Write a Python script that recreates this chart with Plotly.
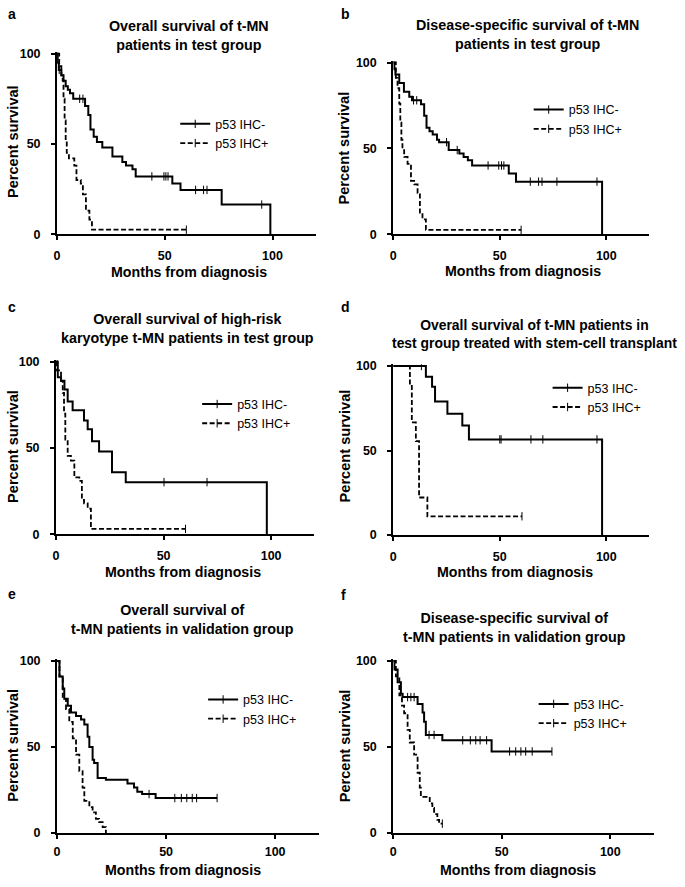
import numpy as np
import plotly.graph_objects as go
from plotly.subplots import make_subplots

FONT = "Liberation Sans, Arial, sans-serif"
W, H = 685, 887

# ---- data (months, percent survival) ----
a_neg_t = [0, 0.3, 0.8, 2, 3, 4, 5, 6, 7.5, 13, 14.5, 15.5, 17, 18.5, 21, 25.7, 30.3, 32, 35, 36.5, 53.5, 57.3, 76.4, 99]
a_neg_s = [100, 95, 91, 88, 85, 82, 80, 78, 75, 71, 66, 58, 54, 51, 48, 43, 40, 38, 36, 32, 28, 24.5, 16.4, 0]
a_neg_c = [1, 10.5, 12, 44, 49.6, 50.5, 51.5, 64.3, 68, 69.6, 95]
a_pos_t = [0, 1, 2, 2.6, 3, 3.5, 4, 4.5, 5.5, 8, 9, 11, 12, 13.4, 15, 16.2]
a_pos_s = [100, 93, 88, 85, 75, 63, 52, 45, 42, 38, 30, 28, 22, 13, 8, 2.5]
a_pos_c = [60]

b_neg_t = [0, 0.5, 1, 2.8, 5, 7.5, 8.8, 13, 14.5, 15.6, 17, 18.5, 20.5, 21.5, 26, 31, 33, 35, 37, 54.2, 57.6, 98]
b_neg_s = [100, 96, 93, 88, 83, 80, 78, 75.7, 69, 62, 60, 58, 55, 53.6, 49, 47, 45, 43, 40, 35.4, 30.6, 0]
b_neg_c = [9.5, 11, 25, 30, 44.5, 49.5, 50.8, 51.9, 64.3, 68.2, 69.8, 76.8, 95.6]
b_pos_t = [0, 1.2, 2, 2.8, 3.3, 3.8, 4.3, 5.1, 6.7, 8.3, 9.8, 11.4, 12.5, 13.7, 15.3]
b_pos_s = [100, 91, 85, 76, 65, 55, 49, 45, 41, 31, 29, 24, 12.5, 8.6, 2.5]
b_pos_c = [60]

c_neg_t = [0, 0.8, 2.3, 3.9, 5.4, 7.7, 13, 14.7, 16.7, 20, 26, 32.4, 98]
c_neg_s = [100, 91, 89, 84, 77, 72, 66, 61, 54, 48, 36, 30.3, 0]
c_neg_c = [0.5, 50.2, 70.2]
c_pos_t = [0, 0.3, 2.3, 3.1, 3.7, 4.3, 5.4, 6.9, 8.5, 10.8, 12, 13, 14.7, 16.2]
c_pos_s = [100, 95, 89, 82, 70, 55, 45.5, 42.7, 33, 31, 20, 18, 15, 3.2]
c_pos_c = [60.2]

d_neg_t = [0, 15.3, 18.2, 19.6, 25.4, 32.4, 35.5, 98]
d_neg_s = [100, 93.6, 87.7, 79, 71.8, 64.8, 56.6, 0]
d_neg_c = [13.2, 50, 50.6, 64.6, 70.2, 95.6]
d_pos_t = [0, 7.8, 8.7, 10.6, 12.1, 16]
d_pos_s = [100, 88.9, 66.7, 55.6, 22.2, 11.1]
d_pos_c = [60.4]

e_neg_t = [0, 1.1, 2.6, 3.3, 4.9, 6.4, 8.7, 11, 12.5, 14, 14.8, 16.3, 17, 18.6, 22.4, 32.3, 35.3, 36.8, 39, 45.2]
e_neg_s = [100, 91, 84, 78, 74, 70, 68, 66, 63, 56, 50, 42.6, 40.7, 32, 31, 28.7, 26.4, 24, 22.6, 20.3]
e_neg_c = [42.2, 54, 57, 59.5, 62, 64, 73.4]
e_pos_t = [0, 1.1, 2.6, 4.1, 5.6, 7.2, 8.7, 10.2, 11.7, 12.5, 14.8, 16.3, 17.8, 19.3, 20.9, 22.4]
e_pos_s = [100, 91, 78, 72, 64.6, 55, 45.5, 36, 26.4, 18.7, 15, 12, 8.2, 6.3, 3.4, 0]
e_pos_c = []

f_neg_t = [0, 0.5, 2, 3.5, 4.3, 11.2, 13.5, 14.2, 15, 22.6, 45.3]
f_neg_s = [100, 95, 87.6, 81, 79, 75, 70, 64.6, 57, 53.9, 47.4]
f_neg_c = [6.6, 8.1, 9.6, 16.5, 18.8, 32, 35.5, 38, 40, 43, 53.6, 56.4, 58.8, 61, 64, 73.1]
f_pos_t = [0, 1.2, 2.8, 4, 5, 6.6, 7.6, 9.6, 11.2, 12.2, 12.7, 16.8, 18, 18.8, 20.3, 21.1]
f_pos_s = [100, 91, 80, 74, 69.6, 60, 52.6, 45.5, 35, 26.4, 21, 17.2, 14.5, 11, 7.6, 5.4]
f_pos_c = [22.6]

titles = [
    "Overall survival of t-MN<br>patients in test group",
    "Disease-specific survival of t-MN<br>patients in test group",
    "Overall survival of high-risk<br>karyotype t-MN patients in test group",
    "Overall survival of t-MN patients in<br>test group treated with stem-cell transplant",
    "Overall survival of<br>t-MN patients in validation group",
    "Disease-specific survival of<br>t-MN patients in validation group",
]
letters = ["a", "b", "c", "d", "e", "f"]
x_ticks = [0, 50, 100]
y_ticks = [0, 50, 100]

series = [
    (a_neg_t, a_neg_s, a_neg_c, a_pos_t, a_pos_s, a_pos_c),
    (b_neg_t, b_neg_s, b_neg_c, b_pos_t, b_pos_s, b_pos_c),
    (c_neg_t, c_neg_s, c_neg_c, c_pos_t, c_pos_s, c_pos_c),
    (d_neg_t, d_neg_s, d_neg_c, d_pos_t, d_pos_s, d_pos_c),
    (e_neg_t, e_neg_s, e_neg_c, e_pos_t, e_pos_s, e_pos_c),
    (f_neg_t, f_neg_s, f_neg_c, f_pos_t, f_pos_s, f_pos_c),
]

# pixel layout of each panel: x of 0 / 100 months, y of 0 / 100 percent
# title centre + font size, x-title centre, y-title centre, letter, legend text start,
# x tick label standoff
boxes = [
    dict(x0=54.3, x100=270.7, y0=232.3, y100=49.3, tt=(187, 30.5), ts=14.3, xt=(187, 271), yt=(10, 138), lt=(3, 9), lg=(173, 130.5), sx=5),
    dict(x0=392, x100=606, y0=232.3, y100=58.3, tt=(527, 29.5), ts=14.3, xt=(522, 270), yt=(343, 145), lt=(337, 9), lg=(528, 116), sx=5),
    dict(x0=53.3, x100=269.3, y0=536.7, y100=361.7, tt=(185, 328), ts=14.3, xt=(181, 575), yt=(10, 447), lt=(3, 306), lg=(195, 414.5), sx=5),
    dict(x0=392, x100=606, y0=537.3, y100=366, tt=(534, 333.5), ts=13.9, xt=(514, 575), yt=(343, 447), lt=(337, 306), lg=(547, 398), sx=5),
    dict(x0=54.3, x100=273.3, y0=839.3, y100=665, tt=(180, 622.5), ts=14.3, xt=(181, 877), yt=(10, 750), lt=(3, 597), lg=(201, 714), sx=2),
    dict(x0=392, x100=610, y0=839.3, y100=665, tt=(514, 631.5), ts=14.3, xt=(517, 877), yt=(343, 751), lt=(337, 598), lg=(533, 718.5), sx=2),
]

XMAX, YMAX = 120, 101


def km_line(t, s, cens):
    t, s = list(t), list(s)
    if cens and max(cens) > t[-1]:
        t.append(max(cens))
        s.append(s[-1])
    return t, s


def cens_levels(t, s, cens):
    idx = np.searchsorted(np.array(t), np.array(cens), side="right") - 1
    return np.array(s)[idx]


fig = make_subplots(rows=3, cols=2)
annotations = []

for i, (data, box) in enumerate(zip(series, boxes)):
    row, col = i // 2 + 1, i % 2 + 1
    leg = "legend" if i == 0 else f"legend{i + 1}"
    nt, ns, nc, pt, ps, pc = data
    for t, s, c, name, dash, lw in [(nt, ns, nc, "p53 IHC-", "solid", 2),
                                     (pt, ps, pc, "p53 IHC+", "5px,2.5px", 1.8)]:
        lt_, ls_ = km_line(t, s, c)
        fig.add_trace(go.Scatter(x=lt_, y=ls_, mode="lines", line_shape="hv",
                                 line=dict(color="black", width=lw, dash=dash),
                                 showlegend=False, hoverinfo="skip"), row=row, col=col)
        if c:
            fig.add_trace(go.Scatter(x=c, y=cens_levels(t, s, c), mode="markers",
                                     marker=dict(symbol="line-ns-open", size=6, color="black",
                                                 line=dict(color="black", width=1)),
                                     showlegend=False, hoverinfo="skip"), row=row, col=col)
        fig.add_trace(go.Scatter(x=[None], y=[None], mode="lines+markers", name=name,
                                 line=dict(color="black", width=lw, dash=dash),
                                 marker=dict(symbol="line-ns-open", size=6, color="black",
                                             line=dict(color="black", width=1)),
                                 legend=leg), row=row, col=col)

    x120 = box["x0"] + XMAX / 100 * (box["x100"] - box["x0"])
    ytop = box["y0"] - YMAX / 100 * (box["y0"] - box["y100"])
    xa = "xaxis" if i == 0 else f"xaxis{i + 1}"
    ya = "yaxis" if i == 0 else f"yaxis{i + 1}"
    axis_style = dict(showline=True, linecolor="black", linewidth=2, ticks="outside",
                      ticklen=4, tickwidth=2, tickcolor="black", showgrid=False,
                      zeroline=False,
                      tickfont=dict(family=FONT, size=12.5, color="black", weight="bold"))
    fig.layout[xa].update(domain=[box["x0"] / W, x120 / W], range=[0, XMAX],
                          tickvals=x_ticks, ticklabelstandoff=box["sx"], **axis_style)
    fig.layout[ya].update(domain=[1 - box["y0"] / H, 1 - ytop / H], range=[0, YMAX],
                          tickvals=y_ticks, ticklabelstandoff=8, **axis_style)

    fig.layout[leg] = dict(x=box["lg"][0] / W, y=1 - box["lg"][1] / H, xanchor="left",
                           yanchor="middle", bgcolor="rgba(0,0,0,0)",
                           font=dict(family=FONT, size=12.5, color="black"))

    annotations += [
        dict(text=f"<b>{titles[i]}</b>", x=box["tt"][0] / W, y=1 - box["tt"][1] / H,
             xref="paper", yref="paper", showarrow=False, xanchor="center", yanchor="middle",
             font=dict(family=FONT, size=box["ts"], color="black")),
        dict(text="<b>Months from diagnosis</b>", x=box["xt"][0] / W, y=1 - box["xt"][1] / H,
             xref="paper", yref="paper", showarrow=False, xanchor="center", yanchor="middle",
             borderpad=0, font=dict(family=FONT, size=14.2, color="black")),
        dict(text="<b>Percent survival</b>", x=box["yt"][0] / W, y=1 - box["yt"][1] / H,
             xref="paper", yref="paper", showarrow=False, xanchor="center", yanchor="middle",
             textangle=-90, font=dict(family=FONT, size=14.6, color="black")),
        dict(text=f"<b>{letters[i]}</b>", x=box["lt"][0] / W, y=1 - box["lt"][1] / H,
             xref="paper", yref="paper", showarrow=False, xanchor="left", yanchor="middle",
             font=dict(family=FONT, size=14, color="black")),
    ]

fig.update_layout(width=W, height=H, margin=dict(l=0, r=0, t=0, b=0),
                  paper_bgcolor="white", plot_bgcolor="white",
                  annotations=annotations, font=dict(family=FONT, color="black"))

fig.write_html("out.html", config={"displayModeBar": False},
               post_script="document.body.style.margin='0';document.body.style.overflow='hidden';")
